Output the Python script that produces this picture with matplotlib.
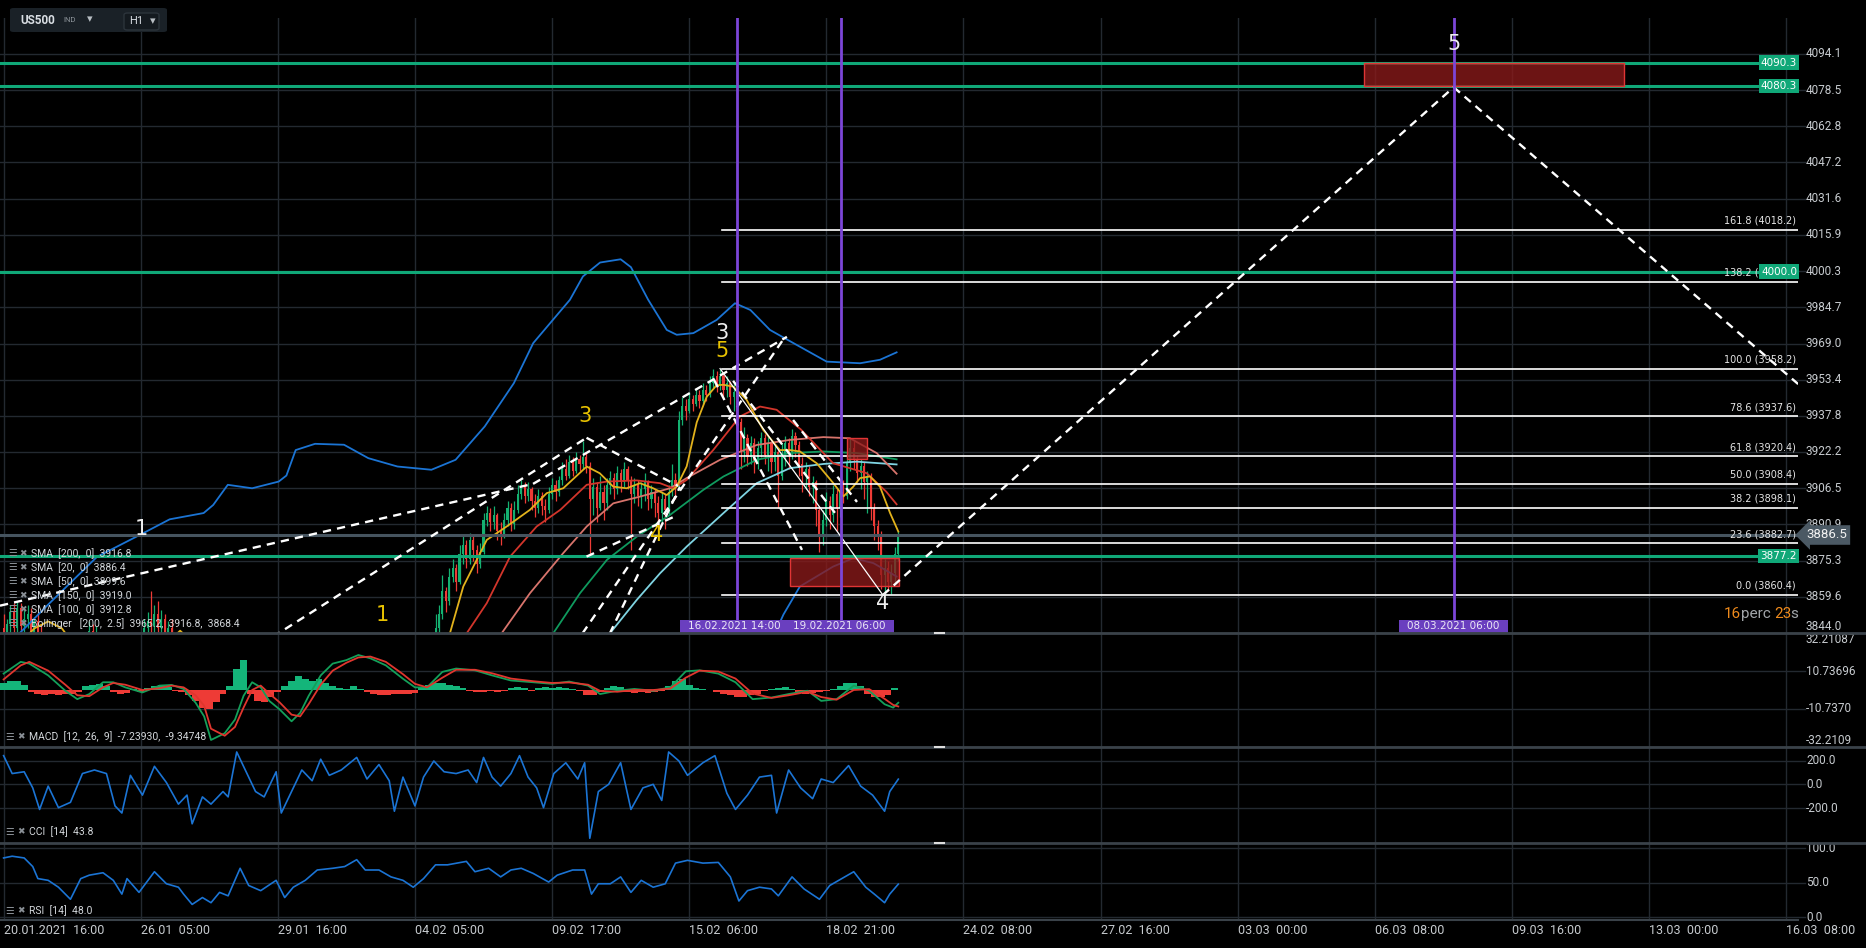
import numpy as np
import matplotlib
matplotlib.use('Agg')
import matplotlib.pyplot as plt
import matplotlib.transforms as mtransforms
from matplotlib.patches import Rectangle, FancyBboxPatch
from matplotlib.lines import Line2D

# ---------------- data (bar index = hours since 20.01.2021 16:00) ----------------
cndl_start = 250
cndl_step = 2
c_open0 = 3834
c_close = [3838, 3846, 3852, 3862, 3858, 3868, 3872, 3866, 3878, 3882,
           3876, 3884, 3880, 3874, 3879, 3893, 3896, 3892, 3895, 3888,
           3886, 3893, 3898, 3891, 3897, 3904, 3907, 3903, 3906, 3901,
           3898, 3903, 3899, 3897, 3904, 3908, 3905, 3910, 3915, 3912,
           3918, 3914, 3919, 3917, 3920, 3916, 3902, 3907, 3898, 3905,
           3900, 3908, 3911, 3906, 3913, 3909, 3915, 3910, 3904, 3908,
           3903, 3906, 3909, 3902, 3905, 3900, 3896, 3902, 3897, 3905,
           3910, 3907, 3936, 3942, 3940, 3945, 3943, 3947, 3944, 3949,
           3947, 3952, 3955, 3951, 3955, 3949, 3952, 3946, 3948, 3935,
           3922, 3928, 3920, 3926, 3918, 3924, 3928, 3921, 3926, 3918,
           3922, 3912, 3920, 3926, 3922, 3929, 3925, 3917, 3912, 3915,
           3907, 3909, 3897, 3886, 3893, 3901, 3895, 3904, 3898, 3905,
           3903, 3918, 3924, 3919, 3913, 3916, 3909, 3912, 3898, 3890,
           3886, 3869, 3872, 3866, 3870, 3878, 3886.5]
c_high = [3842, 3852, 3856, 3869, 3864, 3872, 3876, 3874, 3882, 3886,
          3884, 3887, 3886, 3882, 3883, 3896, 3899, 3898, 3899, 3896,
          3892, 3896, 3901, 3900, 3901, 3908, 3910, 3909, 3909, 3907,
          3904, 3906, 3905, 3902, 3907, 3911, 3910, 3912, 3918, 3919,
          3921, 3920, 3922, 3921, 3927, 3922, 3918, 3911, 3909, 3912,
          3908, 3911, 3914, 3913, 3916, 3915, 3918, 3916, 3912, 3911,
          3910, 3909, 3913, 3910, 3908, 3906, 3903, 3905, 3904, 3908,
          3917, 3913, 3940, 3946, 3945, 3948, 3947, 3950, 3949, 3952,
          3951, 3955, 3958, 3957, 3958.2, 3956, 3955, 3953, 3952, 3949,
          3937, 3933, 3930, 3929, 3928, 3927, 3931, 3930, 3929, 3927,
          3925, 3924, 3926, 3929, 3928, 3932, 3931, 3927, 3920, 3918,
          3916, 3912, 3910, 3899, 3897, 3905, 3903, 3908, 3906, 3909,
          3910, 3922, 3928, 3927, 3921, 3919, 3918, 3914, 3913, 3900,
          3893, 3888, 3876, 3875, 3874, 3881, 3888]
c_low = [3832, 3837, 3844, 3850, 3853, 3856, 3866, 3862, 3865, 3874,
         3872, 3874, 3875, 3870, 3872, 3878, 3890, 3888, 3889, 3884,
         3882, 3885, 3890, 3888, 3889, 3896, 3902, 3900, 3901, 3897,
         3894, 3896, 3895, 3892, 3896, 3902, 3901, 3903, 3908, 3910,
         3911, 3912, 3913, 3914, 3915, 3913, 3877, 3895, 3892, 3897,
         3893, 3897, 3904, 3902, 3904, 3905, 3907, 3906, 3880, 3900,
         3899, 3898, 3901, 3897, 3898, 3894, 3888, 3892, 3889, 3895,
         3903, 3902, 3906, 3934, 3936, 3939, 3940, 3942, 3941, 3943,
         3944, 3946, 3950, 3948, 3949, 3945, 3946, 3943, 3940, 3930,
         3915, 3918, 3916, 3917, 3913, 3915, 3920, 3917, 3914, 3913,
         3914, 3898, 3910, 3916, 3915, 3919, 3920, 3912, 3905, 3906,
         3903, 3900, 3890, 3879, 3882, 3890, 3889, 3892, 3888, 3894,
         3900, 3902, 3914, 3915, 3909, 3906, 3902, 3896, 3893, 3884,
         3880, 3863, 3860.4, 3862, 3861, 3866, 3875]

# early candles that poke above the bottom of the price panel
early_bar = [0, 2, 4, 6, 8, 10, 12, 14, 16, 18, 20, 22, 50, 52, 54,
             82, 84, 86, 88, 90, 92, 94, 96, 98]
early_open = [3846, 3841, 3848, 3853, 3846, 3855, 3847, 3850, 3852, 3844, 3849, 3842,
              3838, 3845, 3840, 3836, 3846, 3849, 3847, 3852, 3846, 3850, 3841, 3846]
early_high = [3852, 3850, 3856, 3857, 3858, 3857, 3854, 3856, 3855, 3851, 3853, 3848,
              3849, 3848, 3847, 3850, 3853, 3862, 3856, 3858, 3854, 3852, 3849, 3850]
early_low = [3838, 3836, 3842, 3844, 3843, 3845, 3840, 3846, 3842, 3838, 3840, 3834,
             3832, 3836, 3833, 3830, 3840, 3843, 3838, 3844, 3840, 3838, 3835, 3836]
early_close = [3841, 3848, 3853, 3846, 3855, 3847, 3850, 3852, 3844, 3849, 3842, 3838,
               3845, 3840, 3842, 3846, 3849, 3847, 3852, 3846, 3850, 3841, 3846, 3839]

# moving averages / bollinger (bar, value)
sma20_bar = [256, 260.4, 268.2, 281.9, 293.5, 307.1, 316.9, 326.5, 340.2, 347.8, 355.7, 363.5,
             371.3, 379, 386.9, 392.7, 398.5, 404.4, 410.2, 416, 420, 425.7, 433.5, 443.2,
             452.9, 458.8, 464.6, 474.4, 484.1, 490, 495.7, 499.7, 505.5, 511.3, 517.2, 522]
sma20_val = [3838, 3843.9, 3864.1, 3884.2, 3890, 3897.2, 3904.4, 3906.5, 3915.9, 3913, 3907.2, 3906.5,
             3908.7, 3906.5, 3903.6, 3907.2, 3915.9, 3935, 3946, 3951, 3951.2, 3950.4, 3944.7, 3931.7,
             3923, 3923, 3922.4, 3917.3, 3908.7, 3903, 3907.2, 3910.9, 3911.6, 3907.2, 3895.8, 3887.8]
sma20_early_bar = [10, 18, 26, 34, 40, 96, 103, 110]
sma20_early_val = [3840, 3846, 3849, 3846, 3840, 3840, 3845, 3840]
sma50_bar = [266, 270.2, 281.9, 295.5, 311, 324.8, 340.2, 351.9, 369.4, 383, 390.7, 398.5,
             414, 429.6, 441.3, 451, 465, 484, 503.6, 515, 521]
sma50_val = [3838, 3843.9, 3856.9, 3877, 3890, 3897.2, 3908, 3909.4, 3909.9, 3908.7, 3906.5, 3910.1,
             3923, 3937.5, 3941.8, 3940.4, 3932, 3917.3, 3913, 3905, 3899.6]
sma100_bar = [286, 290.6, 307.1, 326.5, 340.2, 355.7, 371.3, 388.8, 398.5, 418, 439.4, 458.8,
              478.3, 493.8, 509.4, 521]
sma100_val = [3838, 3843.9, 3861.2, 3878.5, 3890, 3900, 3902.9, 3906.5, 3910.9, 3918.8, 3925.2, 3927.4,
              3928.6, 3928.1, 3921.7, 3912.8]
sma150_bar = [316, 320.7, 336.3, 352, 369.4, 388.8, 408.2, 420, 439.4, 458.8, 478.3, 497.7, 521]
sma150_val = [3839, 3843.9, 3861.2, 3875.6, 3885.6, 3895, 3905.8, 3911.6, 3918.8, 3921.7, 3922.4,
              3921.7, 3919.0]
sma200_bar = [350, 353.8, 369.4, 383, 398.5, 420, 439.4, 458.8, 478.3, 497.7, 521]
sma200_val = [3838, 3843.9, 3858.3, 3869.8, 3881.3, 3895.8, 3908.7, 3915.2, 3917, 3918, 3916.8]
bb_up_bar = [5, 9.6, 27, 54.5, 79.6, 96.9, 116.7, 122.3, 130.8, 145, 160.5, 165, 170.4, 181.7,
             198.6, 212.8, 229.8, 249.6, 263.7, 280.7, 297.7, 309, 330.4, 338, 348, 360, 366,
             376, 386.9, 392.7, 402.4, 416, 426.7, 435.7, 447.1, 460.8, 480.2, 499.7, 511.3, 521]
bb_up_val = [3840, 3844.1, 3857, 3876.9, 3886.4, 3893.1, 3895.8, 3899.3, 3908, 3906.5, 3909.4, 3912,
             3923, 3925.7, 3925.3, 3919.5, 3915.9, 3914.5, 3918.8, 3933.2, 3951.9, 3969.2, 3987.9,
             3998, 4004, 4005.4, 4002, 3988, 3974.9, 3972.8, 3973.5, 3979.2, 3986.4, 3983.5,
             3974.9, 3969.2, 3961.2, 3960.5, 3962, 3965.2]
bb_lo_bar = [445, 450, 455, 464.6, 484, 495.7, 507.4, 521]
bb_lo_val = [3835, 3843.9, 3852, 3864.1, 3872.7, 3876.3, 3874.2, 3868.4]

# horizontal levels
green_levels = [4090.3, 4080.3, 4000.0, 3877.2]
green_texts = ['4090.3', '4080.3', '4000.0', '3877.2']
last_price = 3886.5
fib_start = 419
fib_levels = [4018.2, 3995.6, 3958.2, 3937.6, 3920.4, 3908.4, 3898.1, 3882.7, 3860.4]
fib_texts = ['161.8 (4018.2)', '138.2 (3995.6)', '100.0 (3958.2)', '78.6 (3937.6)',
             '61.8 (3920.4)', '50.0 (3908.4)', '38.2 (3898.1)', '23.6 (3882.7)', '0.0 (3860.4)']
vlines_bar = [427.7, 488.7, 846.0]
vlines_label_bar = [426.4, 487.7, 845.9]
vlines_text = ['16.02.2021 14:00', '19.02.2021 06:00', '08.03.2021 06:00']

# boxes (bar0, bar1, price0, price1)
red_boxes = [(793.7, 945.4, 4080.3, 4090.3), (458.8, 522.4, 3864.5, 3876.6),
             (492.1, 503.8, 3919.2, 3928.3)]

# elliott / channel lines (bar0, price0, bar1, price1)
dashed_lines = [(-2.1, 3855.8, 308.9, 3908.4), (308.9, 3908.4, 457.0, 3971.9),
                (150.0, 3839.0, 340.1, 3928.3), (340.1, 3928.3, 393.5, 3907.5),
                (340.1, 3877.0, 393.5, 3895.0), (333.0, 3838.7, 455.9, 3971.9),
                (350.0, 3838.1, 394.6, 3907.1), (414.5, 3953.3, 465.8, 3879.9),
                (425.6, 3952.9, 486.8, 3894.2), (460.6, 3936.0, 497.9, 3900.6),
                (513.0, 3860.4, 846.0, 4079.7), (846.0, 4079.7, 1047.0, 3951.5)]
solid_lines = [(418.0, 3958.2, 513.0, 3860.4)]
wave_labels = [(80.5, 3888.7, '1', 'w'), (220.8, 3851.8, '1', 'y'), (339.2, 3937.8, '3', 'y'),
               (381.2, 3886.4, '4', 'y'), (419.1, 3973.6, '3', 'w'), (419.1, 3965.8, '5', 'y'),
               (513.1, 3857.0, '4', 'w'), (846.2, 4098.4, '5', 'w')]

# indicators
macd_bar = [0, 10, 15, 26, 36, 43, 50, 58, 64, 71, 81, 91, 98, 105, 112, 117, 121, 129, 135, 140,
            145, 150, 155, 161, 168, 173, 178, 185, 192, 200, 207, 214, 223, 233, 240, 247, 256,
            264, 275, 285, 296, 309, 320, 330, 341, 348, 358, 368, 379, 389, 398, 406, 417, 427,
            437, 448, 458, 469, 477, 486, 496, 505, 514, 519, 522]
macd_val = [9.3, 16, 15, 8.3, -0.4, -5.2, -2.3, 4.4, 4.4, 1.5, -1.4, 2.5, 2.9, 0.6, -7.2, -15,
            -28.4, -24.6, -16.8, -3.3, 4.4, 1.5, -6.2, -11, -17.8, -13, -3.3, 8.3, 15, 17, 19.9,
            18, 14, 6.4, 1.5, 1.5, 10.3, 12.2, 11.2, 8.3, 5.4, 4.4, 3.5, 4.8, 2.5, -2.3, -0.4, 0.6,
            -0.4, 1.5, 10.6, 11.2, 9.3, 4.4, -5.2, -4.3, -2.3, -0.4, -6.2, -5.2, 2.5, -0.4, -8.1,
            -10, -7.2393]
signal_val = [6, 14, 16, 11, 3, -3, -3.5, 1.5, 4, 3, 0, 1, 2.5, 1.5, -3, -9, -22, -26, -21, -10,
              0, 2.5, -2, -7, -14, -15, -8, 3, 11, 15.5, 18.5, 19, 16, 9, 3.5, 1.5, 7, 11.5, 11.5,
              9.5, 6.5, 5, 4, 4.3, 3, -0.5, -1, 0, 0, 0.8, 7, 11, 10.5, 6.5, -2, -4.5, -3, -1, -4,
              -5.5, 0, 0.5, -5, -8.5, -9.34748]
hist_step = 4
hist_val = [4, 5, 5, 3, -1, -2, -3, -2.5, -3, -2.5, -2, -1, 2, 3, 3.5, 2.5, -1, -2.5, -1.5, 0.5,
            -1, 1, 2.5, 3, 1.5, -0.5, -1, -3, -6, -10, -11, -7, -2, 2, 12, 17, -2, -6, -7, -4,
            -1, 2, 5, 8, 6, 5, 6, 4, 2, 1, 0.5, 2, 0.5, -1, -2.5, -3, -3, -2.5, -2, -2.5,
            -1.5, 1, 3, 4, 4, 3, 2.5, 1, -0.5, -1, -1, -0.5, -1, -0.5, 1, 1.5, 1, -0.5, 1, 1.5,
            1, 1.5, 1, 0.5, -0.5, -3, -3, -1, 1, 2, 1.5, -1, -1.5, -1, -1.5, -1, -0.5, 2, 5, 6,
            3, 1, 0.5, 0, -1, -2, -3, -4, -4, -3, -2, -0.5, 0.5, 1, 1.5, 0.5, -1, -2, -1.5, -1,
            -0.5, 0.5, 2, 4, 4, 2, -2, -4, -4, -3, 1]
cci_bar = [0, 5, 12, 17, 21, 26, 32, 39, 46, 53, 60, 65, 69, 74, 81, 88, 95, 102, 107, 110,
           116, 121, 128, 131, 136, 141, 147, 152, 159, 162, 167, 174, 180, 185, 190, 197, 206,
           212, 219, 225, 228, 233, 240, 245, 251, 257, 264, 271, 276, 280, 285, 290, 296, 301,
           306, 311, 315, 321, 328, 335, 339, 342, 347, 353, 360, 366, 373, 379, 384, 388, 394,
           399, 408, 415, 422, 427, 434, 441, 448, 451, 458, 465, 472, 477, 484, 493, 500, 507,
           514, 517, 522]
cci_val = [242, 91, 106, -30, -212, -15, -197, -152, 91, 121, 91, -182, -242, 76, -91, 152, 15,
           -167, -91, -333, -106, -167, -61, -106, 273, 121, -61, -106, 106, -242, -91, 121, 30,
           212, 76, 121, 227, 45, 167, 30, -227, 61, -182, 61, 197, 106, 91, 121, 15, 227, 61,
           -15, 91, 242, 61, -30, -197, 91, 182, 45, 182, -455, -61, 0, 182, -212, -30, 0, -136,
           273, 197, 76, 182, 242, -76, -212, -91, 61, 76, -242, 121, -30, -121, 45, 15, 158,
           -15, -91, -227, -61, 43.8]
rsi_bar = [0, 5, 12, 17, 20, 26, 32, 39, 45, 50, 58, 64, 69, 72, 79, 88, 95, 102, 105, 110,
           116, 121, 126, 131, 138, 143, 150, 159, 164, 169, 176, 183, 192, 199, 206, 211, 219,
           226, 233, 239, 245, 252, 259, 270, 275, 283, 290, 296, 302, 309, 318, 323, 332, 339,
           343, 347, 354, 360, 366, 372, 379, 386, 392, 399, 408, 417, 424, 429, 434, 441, 448,
           452, 460, 467, 476, 482, 489, 496, 503, 508, 514, 517, 522]
rsi_val = [86, 88.5, 86, 73.5, 56, 53.5, 43.5, 26, 56, 61, 64.5, 53.5, 33.5, 56, 36, 66, 48.5,
           43.5, 33.5, 18.5, 28.5, 21, 36, 31, 71, 46, 38.5, 53.5, 28.5, 43.5, 53.5, 68.5, 71,
           73.5, 83.5, 68.5, 68.5, 58.5, 53.5, 43.5, 56, 76, 76, 81, 66, 71, 58.5, 68.5, 71, 63.5,
           51, 61, 68.5, 68.5, 33.5, 48.5, 48.5, 58.5, 36, 53.5, 43.5, 48.5, 78.5, 82.5, 78.5,
           79.5, 58.5, 23.5, 38.5, 43.5, 41, 31, 58.5, 41, 26, 46, 56, 66, 43.5, 33.5, 21, 33.5,
           48.0]

date_ticks = [0, 80, 160, 240, 320, 400, 480, 560, 640, 720, 800, 880, 960, 1040]
date_labels = ['20.01.2021  16:00', '26.01  05:00', '29.01  16:00', '04.02  05:00',
               '09.02  17:00', '15.02  06:00', '18.02  21:00', '24.02  08:00', '27.02  16:00',
               '03.03  00:00', '06.03  08:00', '09.03  16:00', '13.03  00:00', '16.03  08:00']
price_ticks = ['3844.0', '3859.6', '3875.3', '3890.9', '3906.5', '3922.2', '3937.8', '3953.4',
               '3969.0', '3984.7', '4000.3', '4015.9', '4031.6', '4047.2', '4062.8', '4078.5',
               '4094.1']
macd_ticks = ['32.21087', '10.73696', '-10.7370', '-32.2109']
cci_ticks = ['200.0', '0.0', '-200.0']
rsi_ticks = ['100.0', '50.0', '0.0']
legend_rows = ['SMA  [200,  0]  3916.8', 'SMA  [20,  0]  3886.4', 'SMA  [50,  0]  3899.6',
               'SMA  [150,  0]  3919.0', 'SMA  [100,  0]  3912.8',
               'Bollinger   [200,  2.5]  3965.2,  3916.8,  3868.4']

# ---------------- styling ----------------
W, H = 1866, 948
BG = '#000000'
GRID = '#232930'
SEP = '#3a4249'
TXT = '#c7cbcf'
GREEN = '#10a878'
UP = '#14b070'
DOWN = '#ee3b36'
BLUE = '#1b74d4'
YELLOW = '#e8c200'
PURPLE = '#6a3fbf'
plt.rcParams['font.family'] = ['Roboto', 'DejaVu Sans']


def fx(x):
    return x / W


def fy(y):
    return 1 - y / H


fig = plt.figure(figsize=(W / 100, H / 100), dpi=100, facecolor=BG)
right = 1798
ax_p = fig.add_axes([0, fy(633), right / W, (633 - 18) / H])
ax_m = fig.add_axes([0, fy(747), right / W, (747 - 633) / H], sharex=ax_p)
ax_c = fig.add_axes([0, fy(843), right / W, (843 - 747) / H], sharex=ax_p)
ax_r = fig.add_axes([0, fy(920), right / W, (920 - 843) / H], sharex=ax_p)

ax_p.set_xlim(-2.1, 1046.9)
ax_p.set_ylim(3844.0, 4109.6)
ax_m.set_ylim(-32.4, 32.4)
ax_c.set_ylim(-495, 315)
ax_r.set_ylim(-4.1, 107.7)

for ax, ticks in [(ax_p, price_ticks), (ax_m, macd_ticks), (ax_c, cci_ticks), (ax_r, rsi_ticks)]:
    ax.set_facecolor(BG)
    for s in ax.spines.values():
        s.set_visible(False)
    ax.tick_params(left=False, bottom=False, labelleft=False, labelbottom=False)
    for b in date_ticks:
        ax.axvline(b, color=GRID, lw=1, zorder=0)
    tr = mtransforms.blended_transform_factory(ax.transAxes, ax.transData)
    trf = mtransforms.blended_transform_factory(fig.transFigure, ax.transData)
    ymin, ymax = ax.get_ylim()
    for t in ticks:
        v = float(t)
        ax.plot([0, 1.004], [v, v], color=GRID, lw=1, transform=tr, clip_on=False, zorder=0)
        va = 'center'
        if v - ymin < 0.02 * (ymax - ymin):
            va = 'bottom'
        elif ymax - v < 0.02 * (ymax - ymin):
            va = 'top'
        ax.text(fx(1806), v, t, transform=trf, color=TXT, fontsize=8.5, va=va, ha='left')

# ---- candles ----
bars = np.arange(len(c_close)) * cndl_step + cndl_start
closes = np.array(c_close, dtype=float)
opens = np.r_[c_open0, closes[:-1]]
highs = np.array(c_high, dtype=float)
lows = np.array(c_low, dtype=float)
eb = np.array(early_bar)
bars_all = np.r_[eb, bars]
opens_all = np.r_[early_open, opens]
closes_all = np.r_[early_close, closes]
highs_all = np.r_[early_high, highs]
lows_all = np.r_[early_low, lows]
cols = np.where(closes_all >= opens_all, UP, DOWN)
ax_p.vlines(bars_all, lows_all, highs_all, colors=cols, lw=0.9, zorder=3)
body_lo = np.minimum(opens_all, closes_all)
body_h = np.maximum(np.abs(closes_all - opens_all), 0.4)
ax_p.bar(bars_all, body_h, bottom=body_lo, width=1.2, color=cols, lw=0, zorder=3)

# ---- moving averages ----
ax_p.plot(bb_up_bar, bb_up_val, color=BLUE, lw=1.3, zorder=4)
ax_p.plot(bb_lo_bar, bb_lo_val, color=BLUE, lw=1.3, zorder=4)
ax_p.plot(sma200_bar, sma200_val, color='#7fd4e2', lw=1.3, zorder=4)
ax_p.plot(sma150_bar, sma150_val, color='#0f9a5e', lw=1.3, zorder=4)
ax_p.plot(sma100_bar, sma100_val, color='#d8746c', lw=1.3, zorder=4)
ax_p.plot(sma50_bar, sma50_val, color='#d2352b', lw=1.3, zorder=4)
ax_p.plot(sma20_bar, sma20_val, color='#e2b21c', lw=1.3, zorder=4)
ax_p.plot(sma20_early_bar[:5], sma20_early_val[:5], color='#e2b21c', lw=1.3, zorder=4)
ax_p.plot(sma20_early_bar[5:], sma20_early_val[5:], color='#e2b21c', lw=1.3, zorder=4)

# ---- horizontal levels ----
trp = mtransforms.blended_transform_factory(ax_p.transAxes, ax_p.transData)
for lv in fib_levels:
    ax_p.plot([fib_start, 1046.9], [lv, lv], color='white', lw=1.2, zorder=5)
for lv, t in zip(fib_levels, fib_texts):
    ax_p.text(0.9988, lv + 3.9, t, transform=trp, ha='right', va='center', color='#e6e6e6',
              fontsize=7, family=['DejaVu Sans'], zorder=6)
for lv in green_levels:
    ax_p.axhline(lv, color=GREEN, lw=2.2, zorder=5)
for lv, t in zip(green_levels, green_texts):
    ax_p.text(0.9995, lv, t, transform=trp, ha='right', va='center', color='white',
              fontsize=7.5, family=['DejaVu Sans'], zorder=8,
              bbox=dict(boxstyle='square,pad=0.22', fc=GREEN, ec='none'))
ax_p.axhline(last_price, color='#46545f', lw=2.2, zorder=5)

# ---- boxes ----
for b0, b1, p0, p1 in red_boxes:
    ax_p.add_patch(Rectangle((b0, p0), b1 - b0, p1 - p0, fc=(0.55, 0.1, 0.1, 0.78),
                             ec='#e03535', lw=1, zorder=6))

# ---- lines ----
for b0, p0, b1, p1 in dashed_lines:
    ax_p.plot([b0, b1], [p0, p1], color='white', lw=1.7, ls=(0, (3.5, 2.6)), zorder=7)
for b0, p0, b1, p1 in solid_lines:
    ax_p.plot([b0, b1], [p0, p1], color='white', lw=0.9, zorder=7)
half_w = 31.6   # half label width in bars (~54 px)
lab_h = 5.8     # label height in price units (~13 px)
for b in vlines_bar:
    ax_p.axvline(b, color='#7c46d8', lw=2, zorder=7)
for b, t in zip(vlines_label_bar, vlines_text):
    ax_p.add_patch(Rectangle((b - half_w, 3844.0), 2 * half_w, lab_h, fc=PURPLE, ec='none',
                             zorder=9, clip_on=False))
    ax_p.text(b, 3844.0 + lab_h / 2, t, ha='center', va='center', color='#ece8f6',
              fontsize=7.5, zorder=10, family=['DejaVu Sans'])
for b, p, t, c in wave_labels:
    ax_p.text(b, p, t, ha='center', va='center', fontsize=15, family=['DejaVu Sans'],
              color=YELLOW if c == 'y' else '#eeeeee', zorder=9)

# ---- MACD ----
hb = np.arange(len(hist_val)) * hist_step
hv = np.array(hist_val, dtype=float)
ax_m.bar(hb, hv, width=hist_step, color=np.where(hv >= 0, '#14b57a', DOWN), lw=0, zorder=2)
ax_m.plot(macd_bar, macd_val, color='#13a05a', lw=1.3, zorder=3)
ax_m.plot(macd_bar, signal_val, color='#e0362e', lw=1.3, zorder=3)

# ---- CCI, RSI ----
ax_c.plot(cci_bar, cci_val, color=BLUE, lw=1.2, zorder=3)
ax_r.plot(rsi_bar, rsi_val, color=BLUE, lw=1.2, zorder=3)

# ---- legends ----
for i, t in enumerate(legend_rows):
    y = 553.3 + i * 14
    fig.text(fx(8), fy(y), '\u2630', color='#8a9096', fontsize=7, va='center',
             family=['DejaVu Sans'])
    fig.text(fx(19), fy(y), '\u2716', color='#8a9096', fontsize=6.5, va='center',
             family=['DejaVu Sans'])
    fig.text(fx(31), fy(y), t, color='#d2d6da', fontsize=7.5, va='center', zorder=10)
for y, t in [(737, 'MACD  [12,  26,  9]  -7.23930,  -9.34748'), (832, 'CCI  [14]  43.8'),
             (911, 'RSI  [14]  48.0')]:
    fig.text(fx(5), fy(y), '\u2630', color='#8a9096', fontsize=7, va='center',
             family=['DejaVu Sans'])
    fig.text(fx(17), fy(y), '\u2716', color='#8a9096', fontsize=6.5, va='center',
             family=['DejaVu Sans'])
    fig.text(fx(29), fy(y), t, color='#d2d6da', fontsize=7.5, va='center')

# ---- date labels ----
trr = mtransforms.blended_transform_factory(ax_r.transData, fig.transFigure)
for b, t in zip(date_ticks, date_labels):
    ax_r.text(b, fy(931), t, transform=trr, ha='left', va='center', color=TXT, fontsize=9,
              clip_on=False)

# ---- separators ----
for y in [633, 747, 843]:
    fig.add_artist(Line2D([0, 1], [fy(y), fy(y)], color=SEP, lw=2))
    fig.add_artist(Line2D([fx(935), fx(944)], [fy(y), fy(y)], color='#dddddd', lw=1.5))
fig.add_artist(Line2D([0, fx(1798)], [fy(920), fy(920)], color=SEP, lw=1.5))

# ---- last price tag ----
fig.text(fx(1806), fy(535), '3886.5', color='#f2f2f2', fontsize=9.5, va='center', ha='left',
         bbox=dict(boxstyle='larrow,pad=0.25', fc='#4b5964', ec='none'), zorder=20)

# ---- countdown ----
for x, t, c in [(1724, '16', '#ee8a1c'), (1741, 'perc', '#a2a6aa'), (1774, '23', '#ee8a1c'),
                (1790, 's', '#a2a6aa')]:
    fig.text(fx(x), fy(614), t, color=c, fontsize=11, va='center', ha='left')

# ---- symbol box ----
fig.add_artist(FancyBboxPatch((fx(10), fy(32)), fx(157), 24 / H,
                              boxstyle='round,pad=0,rounding_size=0.002', fc='#1a2127', ec='none'))
fig.add_artist(FancyBboxPatch((fx(124), fy(30)), fx(35), 17 / H,
                              boxstyle='round,pad=0,rounding_size=0.002', fc='#141a1f',
                              ec='#2c343b', lw=1))
fig.text(fx(20), fy(20), 'US500', color='#d9dee3', fontsize=8.5, weight='bold', va='center')
fig.text(fx(63), fy(20), 'IND', color='#8d949a', fontsize=5.5, va='center')
fig.text(fx(87), fy(19), '\u25BE', color='#b8bec3', fontsize=8, va='center', family=['DejaVu Sans'])
fig.text(fx(129), fy(21), 'H1', color='#d9dee3', fontsize=8, va='center')
fig.text(fx(150), fy(21), '\u25BE', color='#b8bec3', fontsize=8, va='center', family=['DejaVu Sans'])

fig.savefig('out.png', dpi=100, facecolor=BG)
